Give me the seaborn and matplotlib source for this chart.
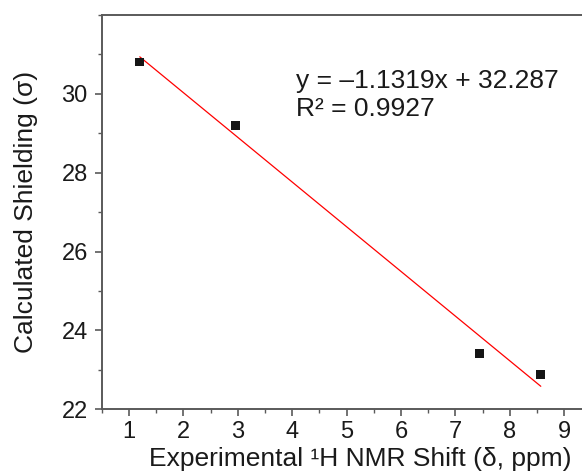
import numpy as np
import pandas as pd
import matplotlib
matplotlib.use("Agg")
import matplotlib.pyplot as plt
import seaborn as sns
from matplotlib.ticker import MultipleLocator

# Data
exp_shift = [1.20, 2.96, 7.45, 8.57]
calc_shield = [30.81, 29.20, 23.42, 22.89]
x_ticks = [1, 2, 3, 4, 5, 6, 7, 8, 9]
y_ticks = [22, 24, 26, 28, 30]
eq_text = "y = \u20131.1319x + 32.287"
r2_text = "R\u00b2 = 0.9927"

df = pd.DataFrame({"x": exp_shift, "y": calc_shield})

sns.set_theme(style="ticks")
plt.rcParams["font.family"] = ["Liberation Sans", "DejaVu Sans"]

fig = plt.figure(figsize=(5.82, 4.75), dpi=100)
# the reference is cropped on the right: the axes run past the figure edge
ax = fig.add_axes([101.7 / 582, 1 - 409.3 / 475, 9.5 * 54.41 / 582, (409.3 - 15) / 475])

sns.regplot(data=df, x="x", y="y", ax=ax, ci=None, marker="s",
            scatter_kws=dict(s=40, color="#151515", edgecolor="none", alpha=1.0, zorder=3),
            line_kws=dict(color="#ff0000", lw=0.9, zorder=2))

ax.set_xlim(0.5, 10.0)
ax.set_ylim(22, 32)
ax.set_xticks(x_ticks)
ax.set_yticks(y_ticks)
ax.xaxis.set_minor_locator(MultipleLocator(0.5))
ax.yaxis.set_minor_locator(MultipleLocator(1))

spine_col = "#5a5a5a"
for s in ax.spines.values():
    s.set_color(spine_col)
    s.set_linewidth(1.4)

ax.tick_params(axis="both", which="major", direction="out", length=5, width=1.2,
               color=spine_col, labelsize=17, labelcolor="#1a1a1a")
ax.tick_params(axis="x", which="major", pad=3.5)
ax.tick_params(axis="y", which="major", pad=5)
ax.tick_params(axis="both", which="minor", direction="out", length=3, width=1.0,
               color=spine_col)

ax.set_xlabel("Experimental \u00b9H NMR Shift (\u03b4, ppm)", fontsize=19,
              color="#1a1a1a", labelpad=3)
ax.set_ylabel("Calculated Shielding (\u03c3)", fontsize=19, color="#1a1a1a", labelpad=17)

ax.text(4.08, 30.15, eq_text, fontsize=19, color="#1a1a1a", va="baseline", ha="left")
ax.text(4.08, 29.44, r2_text, fontsize=19, color="#1a1a1a", va="baseline", ha="left")

fig.savefig("out.png", dpi=100)
